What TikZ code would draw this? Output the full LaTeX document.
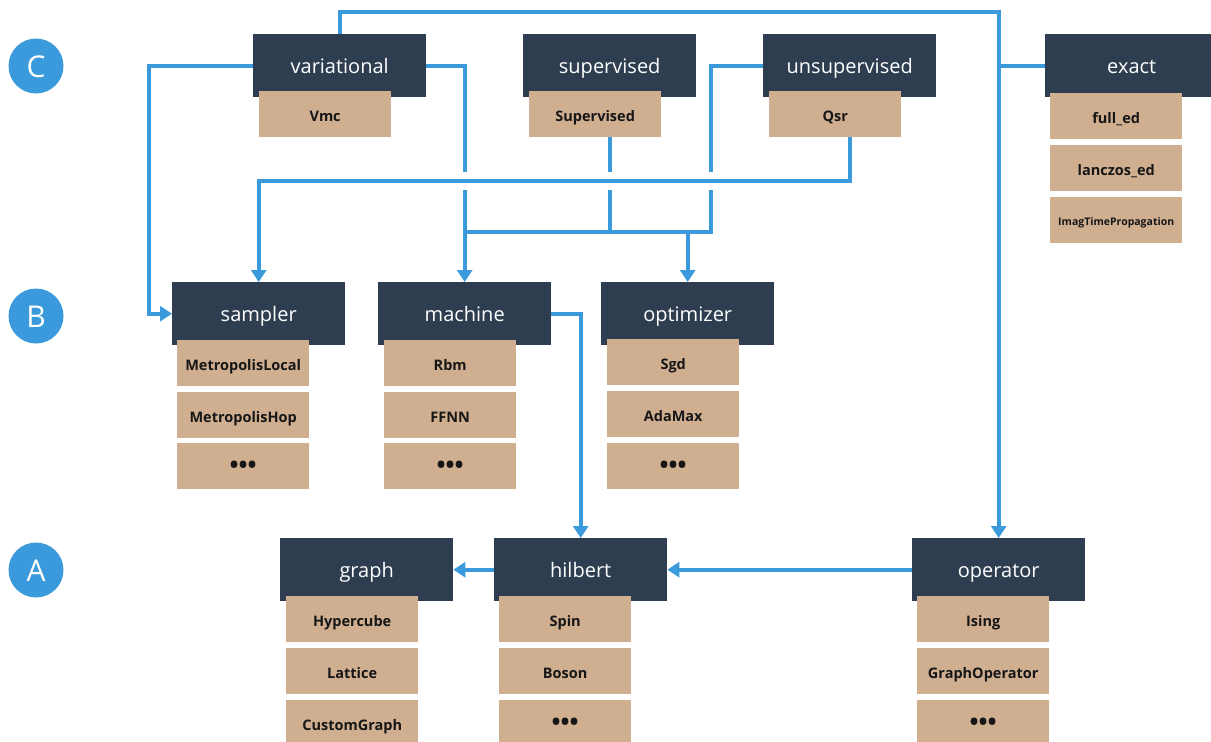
\documentclass[tikz,border=0pt]{standalone}
\usepackage{fontspec}
\setmainfont{Open Sans}
\usetikzlibrary{arrows.meta}
\definecolor{hdrc}{HTML}{2E3E50}
\definecolor{itmc}{HTML}{D0AF91}
\definecolor{bl}{HTML}{3A9ADB}
\definecolor{txt}{HTML}{161616}
\tikzset{
 hdr/.style={fill=hdrc, text=white, minimum width=173pt, minimum height=63pt, inner sep=0pt, anchor=north west, text height=17pt, text depth=2pt, font=\fontsize{20}{24}\selectfont},
 itm/.style={fill=itmc, text=txt, minimum width=132pt, minimum height=46pt, inner sep=0pt, anchor=north west, text height=14pt, text depth=0pt, font=\bfseries\fontsize{14.5}{18}\selectfont},
 small/.style={font=\bfseries\fontsize{10.5}{13}\selectfont, text height=11pt},
 dots/.style={font=\bfseries\fontsize{24}{24}\selectfont, text height=15pt},
 ln/.style={draw=bl, line width=4pt},
 arr/.style={ln, -{Triangle[width=15pt,length=12pt]}},
 lab/.style={circle, fill=bl, text=white, minimum size=55pt, inner sep=0pt, text height=22pt, text depth=0pt, font=\fontsize{30}{36}\selectfont}
}
\begin{document}
\begin{tikzpicture}[x=1pt,y=-1pt]
\useasboundingbox (0,0) rectangle (1211,742);
\clip (0,0) rectangle (1211,742);
% level labels
\node[lab] (lC) at (36,66) {C};
\node[lab] (lB) at (36,316) {B};
\node[lab] (lA) at (36,570) {A};
% helper coordinates
\coordinate (ty) at (0,12);
\coordinate (hy) at (0,181);
\coordinate (ly) at (0,232);
\coordinate (lx) at (149,0);
\coordinate (ux) at (711,0);
% headers
\node[hdr] (variational) at (253,34) {variational};
\node[hdr] (supervised) at (523,34) {supervised};
\node[hdr] (unsupervised) at (763,34) {unsupervised};
\node[hdr] (exact) at (1045,34) {exact};
\node[hdr] (sampler) at (172,282) {sampler};
\node[hdr] (machine) at (378,282) {machine};
\node[hdr] (optimizer) at (601,282) {optimizer};
\node[hdr] (graph) at (280,538) {graph};
\node[hdr] (hilbert) at (494,538) {hilbert};
\node[hdr] (operator) at (912,538) {operator};
% items
\node[itm] (Vmc) at (259,91) {Vmc};
\node[itm] (Supervised) at (529,91) {Supervised};
\node[itm] (Qsr) at (769,91) {Qsr};
\node[itm] (fulled) at (1050,93) {full\_ed};
\node[itm] (lanczos) at (1050,145) {lanczos\_ed};
\node[itm,small] (imag) at (1050,197) {ImagTimePropagation};
\node[itm] (mlocal) at (177,340) {MetropolisLocal};
\node[itm] (mhop) at (177,392) {MetropolisHop};
\node[itm,dots] (sdots) at (177,443) {•••};
\node[itm] (rbm) at (384,340) {Rbm};
\node[itm] (ffnn) at (384,392) {FFNN};
\node[itm,dots] (mdots) at (384,443) {•••};
\node[itm] (sgd) at (607,339) {Sgd};
\node[itm] (adamax) at (607,391) {AdaMax};
\node[itm,dots] (odots) at (607,443) {•••};
\node[itm] (hyper) at (286,596) {Hypercube};
\node[itm] (lattice) at (286,648) {Lattice};
\node[itm] (custom) at (286,700) {CustomGraph};
\node[itm] (spin) at (499,596) {Spin};
\node[itm] (boson) at (499,648) {Boson};
\node[itm,dots] (hdots) at (499,700) {•••};
\node[itm] (ising) at (917,596) {Ising};
\node[itm] (graphop) at (917,648) {GraphOperator};
\node[itm,dots] (opdots) at (917,700) {•••};
% connectors
\draw[arr] (variational.north) |- (ty -| operator.north) -- (operator.north);
\draw[ln] (exact.west) -- (exact.west -| operator.north);
\draw[arr] (variational.west) -| (lx |- sampler.west) -- (sampler.west);
\draw[ln] (variational.east) -| ([yshift=9pt]machine.north |- hy);
\draw[arr] ([yshift=-9pt]machine.north |- hy) -- (machine.north);
\draw[arr] (unsupervised.south |- Qsr.south) |- (hy -| sampler.north) -- (sampler.north);
\draw[ln] (supervised.south |- Supervised.south) -- ([yshift=9pt]supervised.south |- hy);
\draw[ln] ([yshift=-9pt]supervised.south |- hy) -- (supervised.south |- ly);
\draw[ln] (unsupervised.west) -| ([yshift=9pt]ux |- hy);
\draw[ln] ([yshift=-9pt]ux |- hy) |- (machine.north |- ly);
\draw[arr] (optimizer.north |- ly) -- (optimizer.north);
\draw[arr] (machine.east) -| (hilbert.north);
\draw[arr] (hilbert.west) -- (graph.east);
\draw[arr] (operator.west) -- (hilbert.east);
\end{tikzpicture}
\end{document}
